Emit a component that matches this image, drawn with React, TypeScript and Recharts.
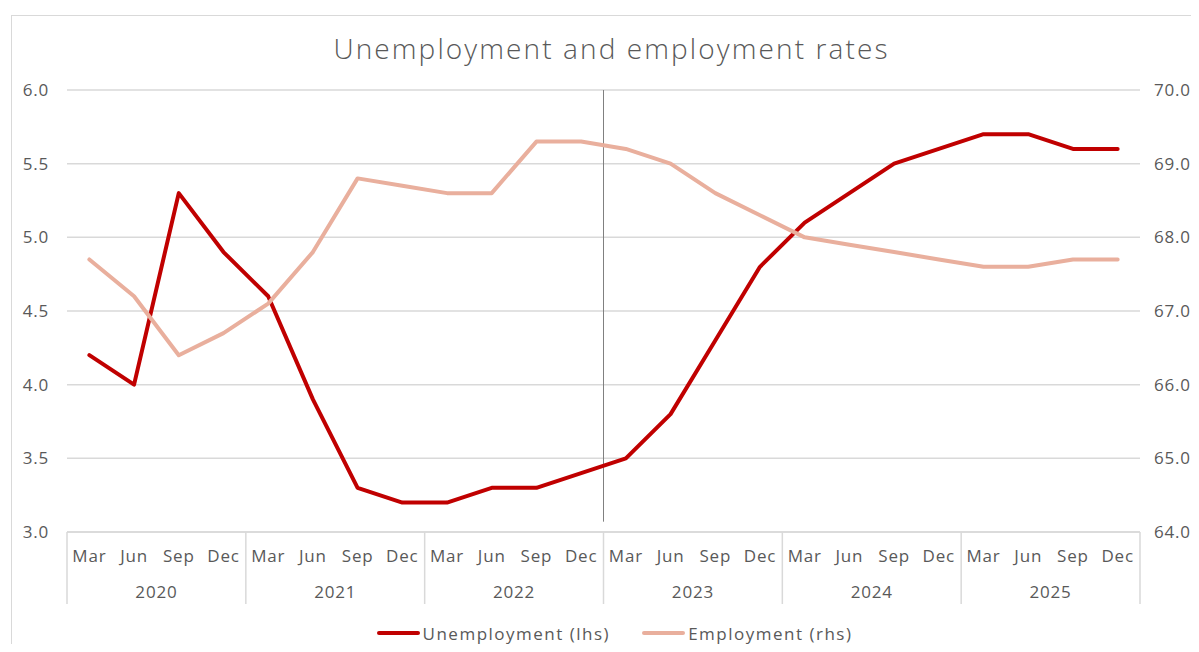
import React from "react"
import { CartesianGrid, Legend, Line, LineChart, ReferenceLine, XAxis, YAxis } from "recharts"

const quarters = ["Mar", "Jun", "Sep", "Dec"]
const years = ["2020", "2021", "2022", "2023", "2024", "2025"]
const seriesNames = ["Unemployment (lhs)", "Employment (rhs)"]

const unemployment = [
  4.2, 4.0, 5.3, 4.9,
  4.6, 3.9, 3.3, 3.2,
  3.2, 3.3, 3.3, 3.4,
  3.5, 3.8, 4.3, 4.8,
  5.1, 5.3, 5.5, 5.6,
  5.7, 5.7, 5.6, 5.6,
]

const employment = [
  67.7, 67.2, 66.4, 66.7,
  67.1, 67.8, 68.8, 68.7,
  68.6, 68.6, 69.3, 69.3,
  69.2, 69.0, 68.6, 68.3,
  68.0, 67.9, 67.8, 67.7,
  67.6, 67.6, 67.7, 67.7,
]

const leftTicks = [3.0, 3.5, 4.0, 4.5, 5.0, 5.5, 6.0]
const rightTicks = [64, 65, 66, 67, 68, 69, 70]

const rows = unemployment.map((u, i) => ({
  pos: i + 0.5,
  quarter: quarters[i % 4],
  year: years[Math.floor(i / 4)],
  unemployment: u,
  employment: employment[i],
}))

const FONT = "'Open Sans', sans-serif"
const TEXT = "#595959"
const GRID = "#d9d9d9"
const CHART_W = 1191
const CHART_H = 636
const LEFT_W = 59
const RIGHT_W = 59
const STEP = (CHART_W - LEFT_W - RIGHT_W) / rows.length

function XTick(props: any) {
  const { x, y, payload } = props
  const i = Math.round(payload.value - 0.5)
  const row = rows[i]
  if (!row) return null
  return (
    <g>
      <text x={x} y={y + 25} textAnchor="middle" dominantBaseline="middle" fill={TEXT} fontSize={17} letterSpacing={0.8} fontFamily={FONT}>
        {row.quarter}
      </text>
      {i % 4 === 1 && (
        <text x={x + STEP / 2} y={y + 61} textAnchor="middle" dominantBaseline="middle" fill={TEXT} fontSize={17} letterSpacing={0.8} fontFamily={FONT}>
          {row.year}
        </text>
      )}
      {i % 4 === 0 && <line x1={x - STEP / 2} x2={x - STEP / 2} y1={y} y2={y + 72} stroke={GRID} strokeWidth={1.5} />}
      {i === rows.length - 1 && <line x1={x + STEP / 2} x2={x + STEP / 2} y1={y} y2={y + 72} stroke={GRID} strokeWidth={1.5} />}
    </g>
  )
}

function LegendContent(props: any) {
  const items = [...(props.payload || [])].sort(
    (a: any, b: any) => seriesNames.indexOf(a.value) - seriesNames.indexOf(b.value)
  )
  return (
    <div style={{ display: "flex", justifyContent: "center", alignItems: "center", gap: 32, height: 32, paddingLeft: 22, paddingTop: 10, boxSizing: "border-box" }}>
      {items.map((entry: any) => (
        <div key={entry.value} style={{ display: "flex", alignItems: "center", fontFamily: FONT, fontSize: 17, letterSpacing: 1.5, color: TEXT }}>
          <span style={{ display: "inline-block", width: 43, height: 4, borderRadius: 2, background: entry.color, marginRight: 3 }} />
          {entry.value}
        </div>
      ))}
    </div>
  )
}

export default function App() {
  return (
    <div style={{ position: "relative", width: 1183, height: CHART_H }}>
      <div style={{ position: "absolute", left: 3, top: 7, right: -8, bottom: -20, borderLeft: `1px solid ${GRID}`, borderTop: `1px solid ${GRID}` }} />
      <div style={{ position: "absolute", left: 0, top: 22, width: 1183, paddingLeft: 24, boxSizing: "border-box", textAlign: "center", fontFamily: FONT, fontWeight: 300, fontSize: 28, letterSpacing: 2.1, color: TEXT, lineHeight: "36px" }}>
        Unemployment and employment rates
      </div>
      <div style={{ position: "absolute", left: 0, top: 0 }}>
        <LineChart width={CHART_W} height={CHART_H} data={rows} margin={{ top: 82, right: 0, bottom: 0, left: 0 }}>
          <CartesianGrid yAxisId="left" vertical={false} stroke={GRID} strokeWidth={1.5} />
          <XAxis
            dataKey="pos"
            type="number"
            domain={[0, rows.length]}
            ticks={rows.map((r) => r.pos)}
            interval={0}
            height={80}
            tickLine={false}
            tickSize={0}
            tickMargin={0}
            axisLine={{ stroke: GRID, strokeWidth: 1.5 }}
            tick={<XTick />}
          />
          <YAxis
            yAxisId="left"
            domain={[3, 6]}
            ticks={leftTicks}
            width={LEFT_W}
            axisLine={false}
            tickLine={false}
            tickMargin={12}
            tickFormatter={(v: number) => v.toFixed(1)}
            tick={{ fill: TEXT, fontSize: 17, fontFamily: FONT, letterSpacing: 0.8 }}
          />
          <YAxis
            yAxisId="right"
            orientation="right"
            domain={[64, 70]}
            ticks={rightTicks}
            width={RIGHT_W}
            axisLine={false}
            tickLine={false}
            tickMargin={8}
            tickFormatter={(v: number) => v.toFixed(1)}
            tick={{ fill: TEXT, fontSize: 17, fontFamily: FONT, letterSpacing: 0.8, textAnchor: "start" }}
          />
          <ReferenceLine
            yAxisId="left"
            segment={[{ x: 12, y: 6.0 }, { x: 12, y: 3.07 }]}
            stroke="#808080"
            strokeWidth={1}
          />
          <Line
            yAxisId="left"
            dataKey="unemployment"
            name={seriesNames[0]}
            stroke="#C00000"
            strokeWidth={4}
            dot={false}
            strokeLinecap="round"
            strokeLinejoin="round"
            isAnimationActive={false}
          />
          <Line
            yAxisId="right"
            dataKey="employment"
            name={seriesNames[1]}
            stroke="#E9AF9D"
            strokeWidth={4}
            dot={false}
            strokeLinecap="round"
            strokeLinejoin="round"
            isAnimationActive={false}
          />
          <Legend verticalAlign="bottom" height={32} content={<LegendContent />} />
        </LineChart>
      </div>
    </div>
  )
}
